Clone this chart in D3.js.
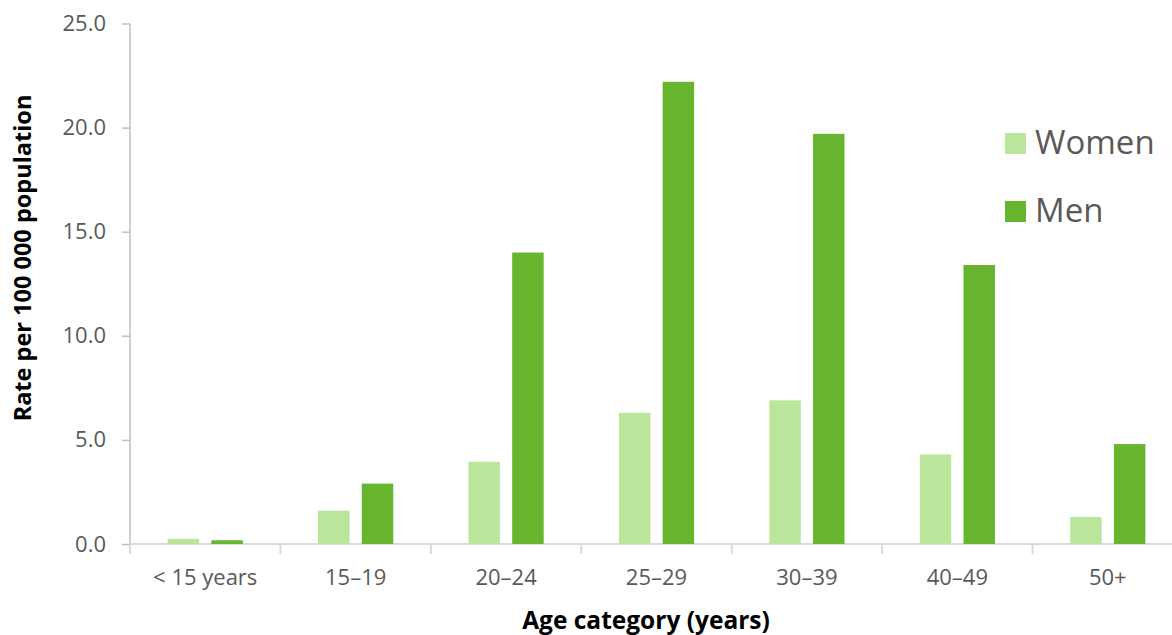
<!DOCTYPE html>
<html><head><meta charset="utf-8">
<script src="https://cdn.jsdelivr.net/npm/d3@7"></script>
<style>body{margin:0;background:#fff;overflow:hidden}svg{display:block}</style>
</head><body><svg id="c" width="1172" height="635"></svg>
<script>
const categories = ["< 15 years","15–19","20–24","25–29","30–39","40–49","50+"];
const women = [0.25,1.6,3.95,6.3,6.9,4.3,1.3];
const men = [0.18,2.9,14.0,22.2,19.7,13.4,4.8];
const seriesNames = ["Women","Men"];
const colors = ["#bae59b","#67b42f"];
const yTicks = [0,5,10,15,20,25];

const svg = d3.select("#c");
const font = "'Open Sans', sans-serif";
const x = d3.scaleBand().domain(categories).range([130,1183]).paddingInner(0).paddingOuter(0);
const y = d3.scaleLinear().domain([0,25]).range([544,23.5]);
const inner = d3.scaleBand().domain(seriesNames).range([0,x.bandwidth()]).paddingInner(0.28).paddingOuter(0.86);

// y axis
const ya = svg.append("g").attr("transform","translate(130,0)")
  .call(d3.axisLeft(y).tickValues(yTicks).tickFormat(d3.format(".1f")).tickSize(8).tickPadding(16));
ya.select(".domain").attr("stroke","#bfbfbf").attr("stroke-width",1.5).attr("d","M0,23.5V544");
ya.selectAll(".tick line").attr("stroke","#bfbfbf").attr("stroke-width",1.5);
ya.selectAll(".tick text").attr("fill","#595959").style("font-family",font).style("font-size","22px");

// x axis
const xa = svg.append("g").attr("transform","translate(0,544)")
  .call(d3.axisBottom(x).tickSize(0).tickPadding(25));
xa.select(".domain").attr("stroke","#d9d9d9").attr("stroke-width",2).attr("d","M130,0H1183");
xa.selectAll(".tick text").attr("fill","#595959").style("font-family",font).style("font-size","22px");
const bounds = categories.map(c=>x(c)).concat([x.range()[1]]);
svg.append("g").selectAll("line").data(bounds).join("line")
  .attr("x1",d=>d).attr("x2",d=>d).attr("y1",544).attr("y2",554)
  .attr("stroke","#d9d9d9").attr("stroke-width",2);

// bars
const data = [women, men];
seriesNames.forEach((s,i)=>{
  svg.append("g").selectAll("rect").data(categories).join("rect")
    .attr("x",c=>x(c)+inner(s))
    .attr("width",inner.bandwidth())
    .attr("y",(c,j)=>y(data[i][j]))
    .attr("height",(c,j)=>y(0)-y(data[i][j]))
    .attr("fill",colors[i]);
});

// legend
const lg = svg.append("g");
seriesNames.forEach((s,i)=>{
  const yy = 143 + i*68;
  lg.append("rect").attr("x",1005).attr("y",yy-10).attr("width",21).attr("height",21).attr("fill",colors[i]);
  lg.append("text").attr("x",1035).attr("y",yy+11).text(s)
    .attr("fill","#595959").style("font-family",font).style("font-size","33px");
});

// axis titles
svg.append("text").attr("transform","translate(31,258) rotate(-90)").attr("text-anchor","middle")
  .text("Rate per 100 000 population").attr("fill","#000").style("font-family",font)
  .style("font-size","23.5px").style("font-weight","bold");
svg.append("text").attr("x",646).attr("y",629).attr("text-anchor","middle")
  .text("Age category (years)").attr("fill","#000").style("font-family",font)
  .style("font-size","24.5px").style("font-weight","bold");
</script></body></html>
